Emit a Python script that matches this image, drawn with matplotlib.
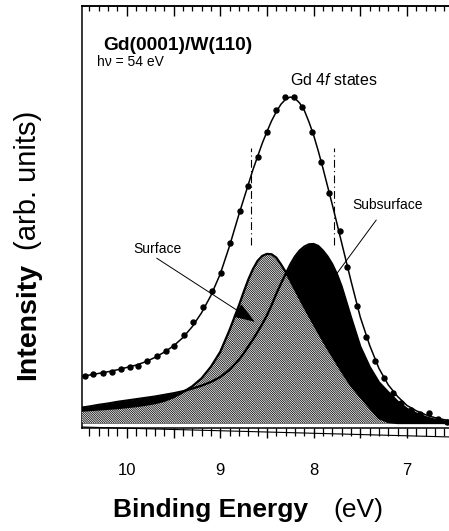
import matplotlib
matplotlib.use('Agg')
import matplotlib.pyplot as plt
from matplotlib.ticker import MultipleLocator, FuncFormatter

plt.rcParams['font.family'] = ['Liberation Sans', 'DejaVu Sans']
plt.rcParams['mathtext.fontset'] = 'custom'
plt.rcParams['mathtext.rm'] = 'Liberation Sans'
plt.rcParams['mathtext.it'] = 'Liberation Sans:italic'
plt.rcParams['mathtext.bf'] = 'Liberation Sans:bold'
plt.rcParams['hatch.linewidth'] = 0.55

# ---------------- data (binding energy in eV, intensity in arb. units) ----------------
dot_energy = [10.45, 10.36, 10.26, 10.16, 10.06, 9.97, 9.88, 9.78, 9.68, 9.58,
              9.49, 9.39, 9.29, 9.18, 9.09, 8.99, 8.90, 8.79, 8.70, 8.60,
              8.50, 8.40, 8.31, 8.21, 8.12, 8.02, 7.92, 7.83, 7.72, 7.64,
              7.54, 7.44, 7.34, 7.25, 7.15, 7.06, 6.96, 6.86, 6.76, 6.67, 6.57]
dot_intensity = [15.8, 16.2, 16.5, 17.0, 17.7, 18.3, 18.8, 20.3, 21.8, 23.4,
                 24.8, 28.1, 32.1, 36.5, 41.4, 46.7, 56.0, 65.6, 73.1, 82.0,
                 89.5, 96.1, 99.9, 99.9, 96.9, 89.5, 80.5, 70.9, 59.5, 48.5,
                 36.9, 27.4, 20.3, 15.0, 10.5, 7.5, 5.4, 4.2, 4.6, 2.7, 1.9]

curve_energy = [10.5, 10.4, 10.3, 10.2, 10.1, 10.0, 9.9, 9.8, 9.7, 9.6,
                9.5, 9.4, 9.3, 9.2, 9.1, 9.0, 8.9,
                8.8, 8.75, 8.7, 8.65, 8.6, 8.55, 8.5, 8.45, 8.4, 8.35,
                8.3, 8.25, 8.2, 8.15, 8.1, 8.05, 8.0, 7.95, 7.9, 7.85,
                7.8, 7.75, 7.7,
                7.6, 7.5, 7.4, 7.3, 7.2, 7.1, 7.0, 6.9, 6.8, 6.7, 6.6, 6.5]
fit_intensity = [15.5, 16.0, 16.5, 17.0, 17.6, 18.3, 19.0, 20.0, 21.3, 22.9,
                 24.8, 27.3, 30.6, 34.8, 40.0, 46.5, 55.0,
                 64.5, 69.0, 73.5, 78.0, 82.0, 86.0, 89.5, 92.8, 95.5, 97.8,
                 99.3, 100.0, 99.6, 98.2, 96.0, 92.5, 88.5, 83.7, 78.5, 73.0,
                 67.5, 61.8, 56.0,
                 44.5, 33.5, 25.0, 18.0, 13.0, 9.5, 6.8, 5.2, 4.0, 3.1, 2.5, 2.1]
surface_intensity = [5.2, 5.4, 5.6, 5.8, 6.0, 6.3, 6.6, 7.0, 7.5, 8.2,
                     9.3, 10.8, 12.6, 15.0, 18.5, 23.0, 29.6,
                     37.0, 41.0, 44.8, 48.0, 50.5, 52.0, 52.6, 52.5, 51.5, 49.5,
                     47.2, 44.6, 41.9, 39.2, 36.6, 34.0, 31.5, 29.0, 26.5, 24.1,
                     21.8, 19.5, 17.2,
                     12.9, 9.5, 6.2, 3.0, 1.8, 1.5, 1.5, 1.5, 1.5, 1.5, 1.5, 1.5]
subsurface_intensity = [6.1, 6.5, 7.0, 7.4, 7.9, 8.3, 8.7, 9.1, 9.5, 10.0,
                        10.5, 11.1, 11.9, 12.8, 13.9, 15.4, 17.6,
                        20.6, 22.5, 24.6, 26.7, 29.0, 31.4, 34.0, 37.1, 40.5, 43.6,
                        46.5, 49.4, 51.8, 53.6, 54.8, 55.5, 55.6, 55.0, 53.6, 51.8,
                        49.5, 46.5, 42.8,
                        33.5, 24.6, 18.5, 13.8, 10.8, 8.0, 5.8, 4.4, 3.3, 2.5, 2.0, 1.7]
baseline_level = 1.5

background_energy = [10.48, 6.55]
background_intensity = [0.3, -2.7]

fwhm_energies = [8.67, 7.78]
fwhm_span = [55.3, 84.6]

surface_label_line = [(9.68, 51.3), (8.63, 32.1)]
subsurface_label_line = [(7.33, 62.8), (7.75, 46.7)]

tick_values = [10, 9, 8, 7]

# ---------------- figure ----------------
W, H = 449, 531
fig = plt.figure(figsize=(W / 100, H / 100), dpi=100)
ax_left, ax_top, ax_bottom = 82, 6, 428
ax = fig.add_axes([ax_left / W, 1 - ax_bottom / H, 1 - ax_left / W, (ax_bottom - ax_top) / H])
ax.set_xlim(10.48, 6.55)
ax.set_ylim(0, 127.5)


def ax_xy(px, py):
    return ((px - ax_left) / (W - ax_left), (ax_bottom - py) / (ax_bottom - ax_top))


# subsurface component (black), then surface component (hatched) on top
ax.fill_between(curve_energy, baseline_level, subsurface_intensity,
                facecolor='black', edgecolor='black', linewidth=0, zorder=2)
ax.fill_between(curve_energy, baseline_level, surface_intensity,
                facecolor='white', edgecolor='black', hatch='\\' * 15,
                linewidth=0, zorder=3)
ax.plot(curve_energy, surface_intensity, color='black', lw=1.6, zorder=4)
ax.plot(curve_energy, subsurface_intensity, color='black', lw=1.6, zorder=4)

# total fit and data points
ax.plot(curve_energy, fit_intensity, color='black', lw=1.1, zorder=5)
ax.plot(dot_energy, dot_intensity, 'o', color='black', ms=3.6, zorder=6)

# sloped background line across the bottom ruler
ax.plot(background_energy, background_intensity, color='black', lw=0.8,
        clip_on=False, zorder=5)

# FWHM dash-dot markers
for e in fwhm_energies:
    ax.plot([e, e], fwhm_span, color='black', lw=0.8,
            linestyle=(0, (7, 3, 1, 3)), zorder=5)

# label pointers
ax.annotate('', xy=surface_label_line[1], xytext=surface_label_line[0],
            arrowprops=dict(arrowstyle='-|>,head_length=0.45,head_width=0.16',
                            mutation_scale=30, lw=0.7, color='black',
                            shrinkA=0, shrinkB=0), zorder=7)
ax.plot([p[0] for p in subsurface_label_line], [p[1] for p in subsurface_label_line],
        color='black', lw=0.7, zorder=7)

# texts inside the axes
ax.text(*ax_xy(103, 50), 'Gd(0001)/W(110)', transform=ax.transAxes,
        fontsize=13.8, fontweight='bold', ha='left', va='baseline')
ax.text(*ax_xy(97, 66), 'hν = 54 eV', transform=ax.transAxes,
        fontsize=10, ha='left', va='baseline')
ax.text(*ax_xy(290, 85), r'Gd $\mathit{4f}$ states', transform=ax.transAxes,
        fontsize=11.5, ha='left', va='baseline')
ax.text(*ax_xy(352, 209), 'Subsurface', transform=ax.transAxes,
        fontsize=10, ha='left', va='baseline')
ax.text(*ax_xy(133, 253), 'Surface', transform=ax.transAxes,
        fontsize=10, ha='left', va='baseline')

# spines and ticks
ax.spines['right'].set_visible(False)
for s in ['left', 'top', 'bottom']:
    ax.spines[s].set_linewidth(1.1)
ax.xaxis.set_major_locator(MultipleLocator(0.5))
ax.xaxis.set_minor_locator(MultipleLocator(0.1))
ax.xaxis.set_major_formatter(FuncFormatter(
    lambda v, p: f'{int(round(v))}' if any(abs(v - t) < 1e-6 for t in tick_values) else ''))
ax.tick_params(axis='x', which='major', direction='out', length=7, width=1.0,
               labelsize=12, pad=18.5, top=False)
ax.tick_params(axis='x', which='minor', direction='out', length=5.5, width=0.9, top=False)
ax.set_yticks([])

# top inward ruler ticks via secondary axis
top = ax.secondary_xaxis('top')
top.xaxis.set_major_locator(MultipleLocator(0.5))
top.xaxis.set_minor_locator(MultipleLocator(0.1))
top.tick_params(axis='x', which='major', direction='in', length=7, width=1.0, labeltop=False)
top.tick_params(axis='x', which='minor', direction='in', length=3.8, width=0.9)
top.spines['top'].set_linewidth(1.1)

# axis labels (mixed bold / regular)
fig.text(113 / W, 1 - 516.7 / H, 'Binding Energy', fontsize=19, fontweight='bold',
         ha='left', va='baseline')
fig.text(333 / W, 1 - 516.7 / H, '(eV)', fontsize=19, ha='left', va='baseline')
fig.text(28 / W, 1 - 380 / H, 'Intensity', fontsize=20.5, fontweight='bold',
         rotation=90, ha='center', va='bottom')
fig.text(28 / W, 1 - 250 / H, '(arb. units)', fontsize=21,
         rotation=90, ha='center', va='bottom')

fig.savefig('out.png', dpi=100)
